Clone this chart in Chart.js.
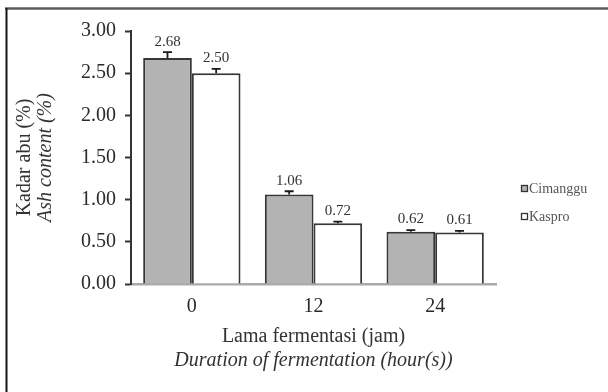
<!DOCTYPE html>
<html><head><meta charset="utf-8">
<script src="https://cdn.jsdelivr.net/npm/chart.js@4/dist/chart.umd.min.js"></script>
<style>html,body{margin:0;padding:0;background:#fff}#wrap{width:608px;height:392px;position:relative}</style>
</head><body><div id="wrap"><canvas id="c" width="608" height="392"></canvas></div>
<script>
const categories = ["0", "12", "24"];
const seriesNames = ["Cimanggu", "Kaspro"];
const cimanggu = [2.68, 1.06, 0.62];
const kaspro = [2.50, 0.72, 0.61];
const cimangguErr = [0.07, 0.04, 0.02];
const kasproErr = [0.05, 0.02, 0.02];
const yTitle = ["Kadar abu (%)", "Ash content (%)"];
const xTitle = ["Lama fermentasi (jam)", "Duration of fermentation (hour(s))"];

const SERIF = '"Liberation Serif", "DejaVu Serif", serif';

const errs = [cimangguErr, kasproErr];

const decor = {
  id: 'decor',
  beforeDraw(chart) {
    const ctx = chart.ctx;
    ctx.save();
    ctx.fillStyle = '#fff';
    ctx.fillRect(0, 0, chart.width, chart.height);
    ctx.strokeStyle = '#5e5e5e';
    ctx.lineWidth = 2.5;
    ctx.beginPath();
    ctx.moveTo(5, 8.5); ctx.lineTo(608, 8.5);
    ctx.stroke();
    ctx.strokeStyle = '#151515';
    ctx.lineWidth = 2;
    ctx.beginPath();
    ctx.moveTo(6.5, 8); ctx.lineTo(6.5, 392);
    ctx.stroke();
    ctx.restore();
  },
  afterDatasetsDraw(chart) {
    const ctx = chart.ctx;
    const y = chart.scales.y;
    ctx.save();
    chart.data.datasets.forEach((ds, di) => {
      const meta = chart.getDatasetMeta(di);
      meta.data.forEach((bar, i) => {
        const v = ds.data[i];
        const e = errs[di][i];
        const yv = y.getPixelForValue(v);
        const ye = y.getPixelForValue(v + e);
        ctx.strokeStyle = '#1a1a1a';
        ctx.lineWidth = 1.8;
        ctx.beginPath();
        ctx.moveTo(bar.x, yv); ctx.lineTo(bar.x, ye);
        ctx.moveTo(bar.x - 4.5, ye); ctx.lineTo(bar.x + 4.5, ye);
        ctx.stroke();
        ctx.fillStyle = '#333';
        ctx.font = '15px ' + SERIF;
        ctx.textAlign = 'center';
        ctx.textBaseline = 'bottom';
        ctx.fillText(v.toFixed(2), bar.x, ye - 3);
      });
    });
    // legend
    chart.data.datasets.forEach((ds, di) => {
      const ly = 189 + di * 28;
      ctx.fillStyle = ds.backgroundColor;
      ctx.strokeStyle = '#333';
      ctx.lineWidth = 1.3;
      ctx.fillRect(521.5, ly - 3.5, 6, 6);
      ctx.strokeRect(521.5, ly - 3.5, 6, 6);
      ctx.fillStyle = '#555';
      ctx.font = '14px ' + SERIF;
      ctx.textAlign = 'left';
      ctx.textBaseline = 'middle';
      ctx.fillText(ds.label, 529, ly);
    });
    // axis titles
    const ca = chart.chartArea;
    const cy = (ca.top + ca.bottom) / 2;
    ctx.fillStyle = '#333';
    ctx.textAlign = 'center';
    ctx.textBaseline = 'middle';
    ctx.save();
    ctx.translate(25, cy);
    ctx.rotate(-Math.PI / 2);
    ctx.font = '20px ' + SERIF;
    ctx.fillText(yTitle[0], 0, 0);
    ctx.restore();
    ctx.save();
    ctx.translate(46, cy);
    ctx.rotate(-Math.PI / 2);
    ctx.font = 'italic 20px ' + SERIF;
    ctx.fillText(yTitle[1], 0, 0);
    ctx.restore();
    const cx = (ca.left + ca.right) / 2;
    ctx.font = '20px ' + SERIF;
    ctx.fillText(xTitle[0], cx, 337);
    ctx.font = 'italic 20px ' + SERIF;
    ctx.fillText(xTitle[1], cx, 361);
    ctx.restore();
  }
};

new Chart(document.getElementById('c'), {
  type: 'bar',
  data: {
    labels: categories,
    datasets: [
      { label: seriesNames[0], data: cimanggu, backgroundColor: '#b3b3b3', borderColor: '#363636', borderWidth: 2, borderSkipped: 'bottom' },
      { label: seriesNames[1], data: kaspro, backgroundColor: '#ffffff', borderColor: '#363636', borderWidth: 2, borderSkipped: 'bottom' }
    ]
  },
  options: {
    responsive: false,
    animation: false,
    events: [],
    layout: { padding: { top: 31, right: 112, bottom: 0, left: 0 } },
    plugins: { legend: { display: false }, tooltip: { enabled: false } },
    datasets: { bar: { categoryPercentage: 0.8, barPercentage: 1 } },
    scales: {
      x: {
        afterFit(s) { s.height = 108; },
        grid: { display: false, drawTicks: false },
        border: { color: '#aaaaaa', width: 2.5 },
        ticks: { color: '#2a2a2a', font: { family: SERIF, size: 20 }, padding: 11 }
      },
      y: {
        min: 0, max: 3,
        afterFit(s) { s.width = 131; },
        grid: { drawOnChartArea: false, drawTicks: true, tickLength: 6, color: '#333', tickWidth: 2 },
        border: { color: '#333', width: 2 },
        ticks: { stepSize: 0.5, color: '#2a2a2a', font: { family: SERIF, size: 20 }, padding: 9,
          callback: v => v.toFixed(2) }
      }
    }
  },
  plugins: [decor]
});
</script></body></html>
